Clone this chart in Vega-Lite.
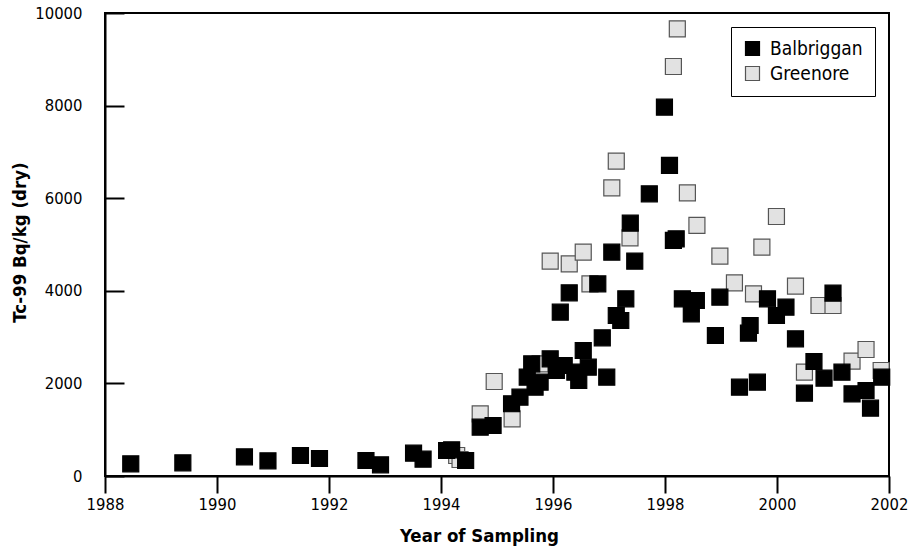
{
  "$schema": "https://vega.github.io/schema/vega-lite/v6.json",
  "autosize": "none",
  "width": 784,
  "height": 463,
  "padding": {"left": 105, "top": 13, "right": 34, "bottom": 73},
  "background": "white",
  "config": {
    "view": {"stroke": "black", "strokeWidth": 2},
    "font": "DejaVu Sans Condensed, Liberation Sans Narrow, sans-serif",
    "axis": {
      "domainColor": "black",
      "domainWidth": 2,
      "tickColor": "black",
      "tickWidth": 2,
      "grid": false,
      "labelFont": "DejaVu Sans Condensed, Liberation Sans Narrow, sans-serif",
      "labelFontSize": 16.5,
      "labelColor": "black",
      "titleFont": "DejaVu Sans Condensed, Liberation Sans Narrow, sans-serif",
      "titleFontSize": 18.5,
      "titleFontWeight": "bold",
      "titleColor": "black"
    },
    "legend": {
      "labelFont": "DejaVu Sans Condensed, Liberation Sans Narrow, sans-serif",
      "labelFontSize": 19,
      "labelColor": "black"
    }
  },
  "data": {
    "values": [
      {"site": "Greenore", "year": 1994.28, "tc": 443},
      {"site": "Greenore", "year": 1994.34, "tc": 356},
      {"site": "Greenore", "year": 1994.70, "tc": 1343},
      {"site": "Greenore", "year": 1994.95, "tc": 2041},
      {"site": "Greenore", "year": 1995.27, "tc": 1235},
      {"site": "Greenore", "year": 1995.77, "tc": 2423},
      {"site": "Greenore", "year": 1995.95, "tc": 4640},
      {"site": "Greenore", "year": 1996.29, "tc": 4583},
      {"site": "Greenore", "year": 1996.54, "tc": 4834},
      {"site": "Greenore", "year": 1996.66, "tc": 4151},
      {"site": "Greenore", "year": 1997.05, "tc": 6225},
      {"site": "Greenore", "year": 1997.13, "tc": 6800},
      {"site": "Greenore", "year": 1997.375, "tc": 5145},
      {"site": "Greenore", "year": 1998.15, "tc": 8845},
      {"site": "Greenore", "year": 1998.22, "tc": 9659},
      {"site": "Greenore", "year": 1998.40, "tc": 6117},
      {"site": "Greenore", "year": 1998.57, "tc": 5411},
      {"site": "Greenore", "year": 1998.98, "tc": 4748},
      {"site": "Greenore", "year": 1999.24, "tc": 4173},
      {"site": "Greenore", "year": 1999.58, "tc": 3935},
      {"site": "Greenore", "year": 1999.73, "tc": 4942},
      {"site": "Greenore", "year": 1999.99, "tc": 5605},
      {"site": "Greenore", "year": 2000.33, "tc": 4100},
      {"site": "Greenore", "year": 2000.49, "tc": 2242},
      {"site": "Greenore", "year": 2000.75, "tc": 3683},
      {"site": "Greenore", "year": 2001.00, "tc": 3683},
      {"site": "Greenore", "year": 2001.34, "tc": 2480},
      {"site": "Greenore", "year": 2001.59, "tc": 2732},
      {"site": "Greenore", "year": 2001.86, "tc": 2279},
      {"site": "Balbriggan", "year": 1988.46, "tc": 263},
      {"site": "Balbriggan", "year": 1989.39, "tc": 285},
      {"site": "Balbriggan", "year": 1990.49, "tc": 414},
      {"site": "Balbriggan", "year": 1990.91, "tc": 328},
      {"site": "Balbriggan", "year": 1991.49, "tc": 443},
      {"site": "Balbriggan", "year": 1991.83, "tc": 378},
      {"site": "Balbriggan", "year": 1992.66, "tc": 335},
      {"site": "Balbriggan", "year": 1992.92, "tc": 242},
      {"site": "Balbriggan", "year": 1993.51, "tc": 493},
      {"site": "Balbriggan", "year": 1993.68, "tc": 363},
      {"site": "Balbriggan", "year": 1994.10, "tc": 551},
      {"site": "Balbriggan", "year": 1994.19, "tc": 566},
      {"site": "Balbriggan", "year": 1994.44, "tc": 335},
      {"site": "Balbriggan", "year": 1994.70, "tc": 1054},
      {"site": "Balbriggan", "year": 1994.93, "tc": 1091},
      {"site": "Balbriggan", "year": 1995.26, "tc": 1560},
      {"site": "Balbriggan", "year": 1995.41, "tc": 1702},
      {"site": "Balbriggan", "year": 1995.54, "tc": 2134},
      {"site": "Balbriggan", "year": 1995.62, "tc": 2423},
      {"site": "Balbriggan", "year": 1995.68, "tc": 1918},
      {"site": "Balbriggan", "year": 1995.77, "tc": 2026},
      {"site": "Balbriggan", "year": 1995.95, "tc": 2531},
      {"site": "Balbriggan", "year": 1996.06, "tc": 2279},
      {"site": "Balbriggan", "year": 1996.13, "tc": 3538},
      {"site": "Balbriggan", "year": 1996.20, "tc": 2387},
      {"site": "Balbriggan", "year": 1996.29, "tc": 3957},
      {"site": "Balbriggan", "year": 1996.39, "tc": 2242},
      {"site": "Balbriggan", "year": 1996.46, "tc": 2063},
      {"site": "Balbriggan", "year": 1996.54, "tc": 2711},
      {"site": "Balbriggan", "year": 1996.63, "tc": 2350},
      {"site": "Balbriggan", "year": 1996.80, "tc": 4151},
      {"site": "Balbriggan", "year": 1996.88, "tc": 2985},
      {"site": "Balbriggan", "year": 1996.96, "tc": 2134},
      {"site": "Balbriggan", "year": 1997.05, "tc": 4834},
      {"site": "Balbriggan", "year": 1997.13, "tc": 3467},
      {"site": "Balbriggan", "year": 1997.21, "tc": 3359},
      {"site": "Balbriggan", "year": 1997.30, "tc": 3827},
      {"site": "Balbriggan", "year": 1997.38, "tc": 5461},
      {"site": "Balbriggan", "year": 1997.46, "tc": 4640},
      {"site": "Balbriggan", "year": 1997.72, "tc": 6095},
      {"site": "Balbriggan", "year": 1997.99, "tc": 7966},
      {"site": "Balbriggan", "year": 1998.08, "tc": 6707},
      {"site": "Balbriggan", "year": 1998.15, "tc": 5087},
      {"site": "Balbriggan", "year": 1998.20, "tc": 5123},
      {"site": "Balbriggan", "year": 1998.31, "tc": 3827},
      {"site": "Balbriggan", "year": 1998.47, "tc": 3503},
      {"site": "Balbriggan", "year": 1998.56, "tc": 3791},
      {"site": "Balbriggan", "year": 1998.90, "tc": 3035},
      {"site": "Balbriggan", "year": 1998.98, "tc": 3862},
      {"site": "Balbriggan", "year": 1999.33, "tc": 1918},
      {"site": "Balbriggan", "year": 1999.49, "tc": 3085},
      {"site": "Balbriggan", "year": 1999.52, "tc": 3251},
      {"site": "Balbriggan", "year": 1999.65, "tc": 2026},
      {"site": "Balbriggan", "year": 1999.83, "tc": 3827},
      {"site": "Balbriggan", "year": 1999.99, "tc": 3467},
      {"site": "Balbriggan", "year": 2000.16, "tc": 3646},
      {"site": "Balbriggan", "year": 2000.33, "tc": 2963},
      {"site": "Balbriggan", "year": 2000.49, "tc": 1789},
      {"site": "Balbriggan", "year": 2000.66, "tc": 2473},
      {"site": "Balbriggan", "year": 2000.84, "tc": 2113},
      {"site": "Balbriggan", "year": 2001.00, "tc": 3949},
      {"site": "Balbriggan", "year": 2001.16, "tc": 2242},
      {"site": "Balbriggan", "year": 2001.34, "tc": 1775},
      {"site": "Balbriggan", "year": 2001.59, "tc": 1847},
      {"site": "Balbriggan", "year": 2001.67, "tc": 1465},
      {"site": "Balbriggan", "year": 2001.87, "tc": 2134}
    ]
  },
  "mark": {"type": "point", "shape": "square", "filled": true, "size": 256, "opacity": 1, "strokeWidth": 1.2},
  "encoding": {
    "x": {
      "field": "year", "type": "quantitative",
      "scale": {"domain": [1988, 2002], "nice": false, "zero": false},
      "axis": {"values": [1988, 1990, 1992, 1994, 1996, 1998, 2000, 2002], "format": "d", "tickSize": 17, "labelPadding": 3, "title": "Year of Sampling", "titleX": 374, "titleY": 59, "titleBaseline": "middle", "labelFlush": false}
    },
    "y": {
      "field": "tc", "type": "quantitative",
      "scale": {"domain": [0, 10000], "nice": false},
      "axis": {"values": [0, 2000, 4000, 6000, 8000, 10000], "format": "d", "tickSize": -19, "labelPadding": 42, "title": "Tc-99 Bq/kg (dry)", "titleX": -86, "titleY": 229, "titleBaseline": "middle", "titleAngle": -90, "labelFlush": false}
    },
    "color": {
      "field": "site", "type": "nominal",
      "scale": {"domain": ["Balbriggan", "Greenore"], "range": ["#000000", "#e2e2e2"]},
      "legend": {"title": null, "orient": "top-right", "offset": 14, "padding": 12, "strokeColor": "black", "fillColor": "white", "symbolType": "square", "symbolSize": 196, "symbolStrokeWidth": 1.2, "labelOffset": 8, "rowPadding": 5}
    },
    "stroke": {
      "field": "site", "type": "nominal",
      "scale": {"domain": ["Balbriggan", "Greenore"], "range": ["#000000", "#555555"]},
      "legend": {"title": null, "orient": "top-right", "offset": 14, "padding": 12, "strokeColor": "black", "fillColor": "white", "symbolType": "square", "symbolSize": 196, "symbolStrokeWidth": 1.2, "labelOffset": 8, "rowPadding": 5}
    }
  }
}
